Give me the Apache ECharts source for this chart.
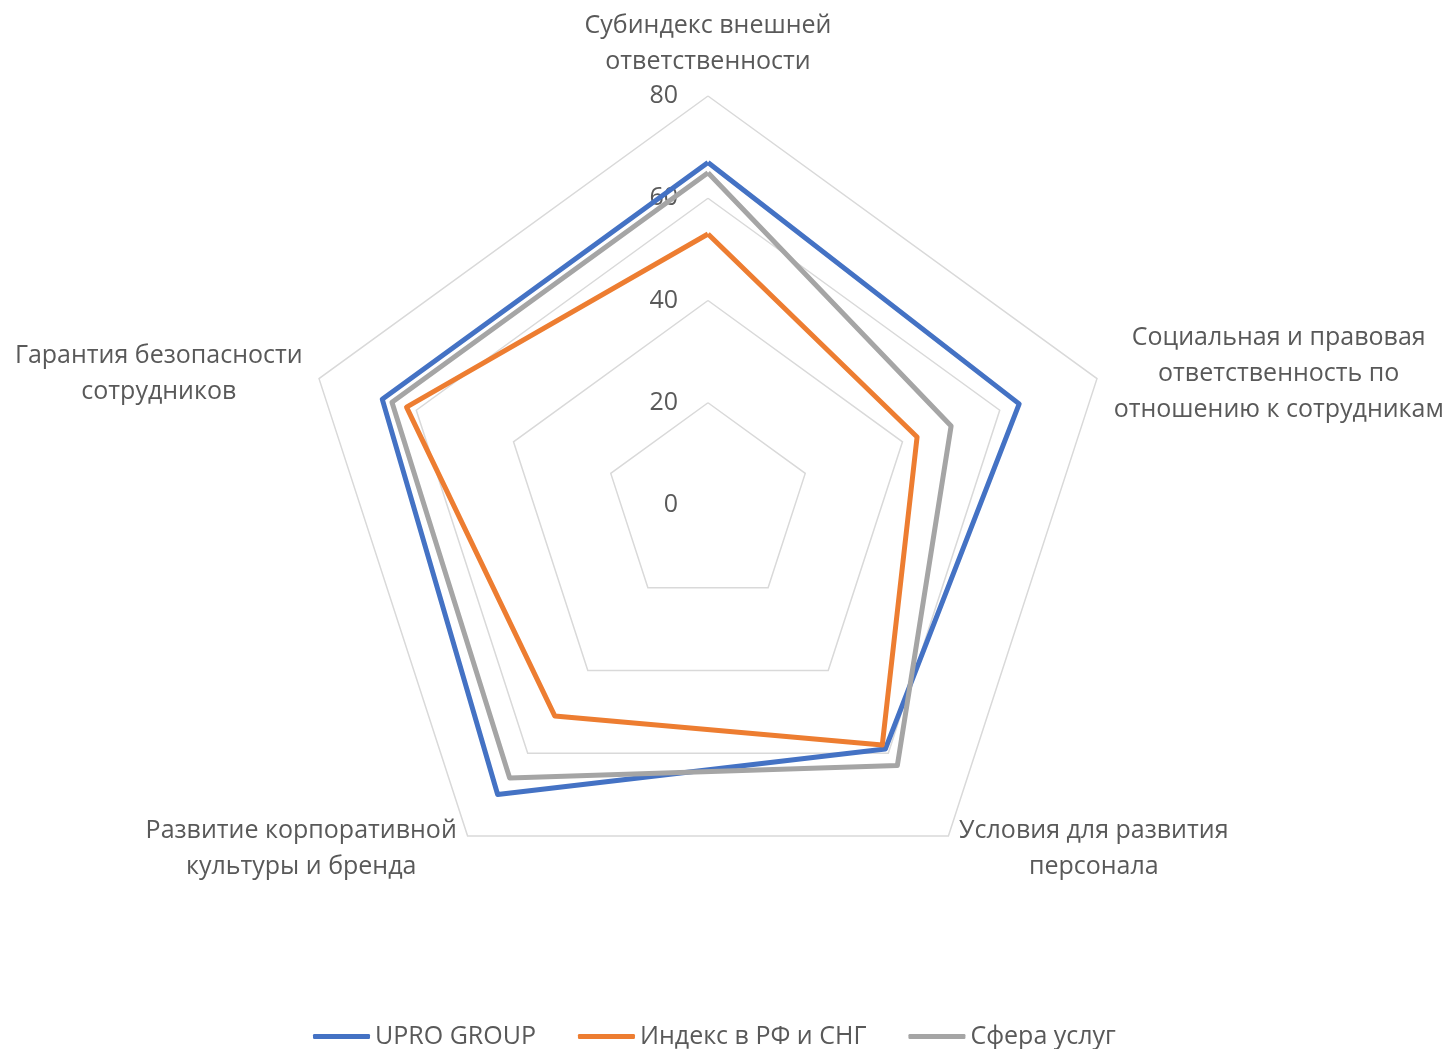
<!DOCTYPE html>
<html>
<head>
<meta charset="utf-8">
<script src="https://cdn.jsdelivr.net/npm/echarts@6/dist/echarts.min.js"></script>
<style>
  html, body { margin: 0; padding: 0; background: #fff; }
  #main { width: 1455px; height: 1049px; }
</style>
</head>
<body>
<div id="main"></div>
<script>
  // порядок осей как в Excel (по часовой стрелке от верхней)
  const indicatorNames = [
    'Субиндекс внешней\nответственности',
    'Социальная и правовая\nответственность по\nотношению к сотрудникам',
    'Условия для развития\nперсонала',
    'Развитие корпоративной\nкультуры и бренда',
    'Гарантия безопасности\nсотрудников'
  ]
  const seriesNames = ['UPRO GROUP', 'Индекс в РФ и СНГ', 'Сфера услуг']
  const uproGroup = [67, 64, 59, 70, 67]
  const indexRfCis = [53, 43, 58, 51, 62]
  const serviceSector = [65, 50, 63, 66, 65]
  const axisMax = 80

  const FONT = '"Open Sans", "Noto Sans", sans-serif'
  // echarts кладёт оси против часовой стрелки, поэтому переставляем
  const order = [0, 4, 3, 2, 1]
  const reorder = arr => order.map(i => arr[i])

  const ctx = document.createElement('canvas').getContext('2d')
  ctx.font = '25px ' + FONT
  const richStyles = {}
  const indicators = reorder(indicatorNames).map((name, i) => {
    const w = Math.max.apply(null, name.split('\n').map(l => ctx.measureText(l).width))
    richStyles['n' + i] = {
      width: Math.ceil(w) + 2,
      align: 'center',
      fontSize: 25,
      lineHeight: 36,
      color: '#595959',
      fontFamily: FONT
    }
    return {
      name: name,
      max: axisMax,
      min: 0,
      axisLabel: { show: i === 0 }
    }
  })

  let chart = echarts.init(document.getElementById('main'))
  chart.setOption({
    color: ['#4472C4', '#ED7D31', '#A5A5A5'],
    animation: false,
    legend: {
      data: seriesNames,
      left: 308,
      top: 1019,
      icon: 'roundRect',
      itemWidth: 57,
      itemHeight: 5,
      itemGap: 42,
      textStyle: {
        fontSize: 25,
        color: '#595959',
        fontFamily: FONT
      }
    },
    radar: {
      center: [708, 505],
      radius: 409,
      startAngle: 90,
      shape: 'polygon',
      splitNumber: 4,
      nameGap: 16,
      indicator: indicators,
      axisName: {
        formatter: function (name) {
          let idx = reorder(indicatorNames).indexOf(name)
          return name.split('\n').map(l => '{n' + idx + '|' + l + '}').join('\n')
        },
        rich: richStyles,
        color: '#595959',
        fontSize: 25,
        fontFamily: FONT
      },
      axisLine: { show: false },
      axisTick: { show: false },
      axisLabel: {
        margin: 30,
        color: '#595959',
        fontSize: 25,
        fontFamily: FONT,
        padding: [5, 0, 0, 0]
      },
      splitLine: {
        lineStyle: { color: '#D9D9D9', width: 1.5 }
      },
      splitArea: { show: false }
    },
    series: [{
      type: 'radar',
      symbol: 'none',
      lineStyle: { width: 5, join: 'round' },
      data: [
        { name: seriesNames[0], value: reorder(uproGroup) },
        { name: seriesNames[1], value: reorder(indexRfCis) },
        { name: seriesNames[2], value: reorder(serviceSector) }
      ]
    }]
  })
</script>
</body>
</html>
